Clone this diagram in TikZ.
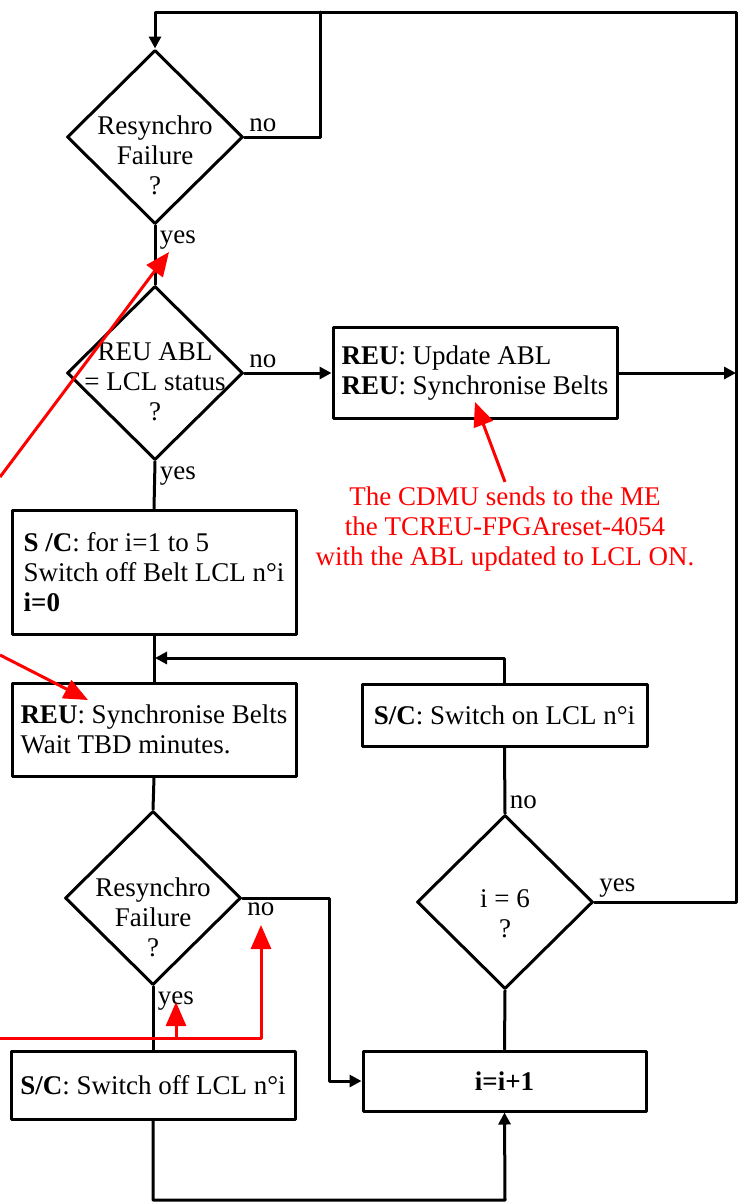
\documentclass[tikz,border=0pt]{standalone}
\usepackage{fontspec}
\setmainfont{Liberation Serif}
\usetikzlibrary{shapes.geometric,arrows.meta}
\begin{document}
\begin{tikzpicture}[x=1pt,y=-1pt,line join=round,line cap=round,>={Triangle[length=12pt,width=12pt]},line width=3pt]
	\tikzset{every node/.style={font=\fontsize{27}{30}\selectfont},
		test/.style={diamond,draw,minimum width=176pt,minimum height=174pt,inner sep=0pt},
		box/.style={rectangle,draw,minimum width=284pt,align=left},
		cbox/.style={rectangle,draw,minimum width=284pt,align=center},
		qtext/.style={align=center,inner sep=0pt},
		note/.style={red,align=center},
		hint/.style={red,line width=3pt,line cap=butt,-{Triangle[length=24pt,width=20pt]}}}
	\useasboundingbox (0,0) rectangle (739,1202);
	% decisions
	\node[test] (d1) at (155,137) {};
	\node[qtext] (q1) at (155,155) {Resynchro\\Failure\\?};
	\node[test] (d2) at (155,373) {};
	\node[qtext] (q2) at (155,382) {REU ABL\\= LCL status\\?};
	\node[test] (d3) at (153,898) {};
	\node[qtext] (q3) at (153,917) {Resynchro\\Failure\\?};
	\node[test] (d4) at (505,902) {};
	\node[qtext] (q4) at (505,914) {i = 6\\?};
	% actions
	\node[box,minimum height=91pt] (b1) at (475,373) {\textbf{REU}: Update ABL\\\textbf{REU}: Synchronise Belts};
	\node[box,minimum height=124pt] (b2) at (154,572) {\textbf{S /C}: for i=1 to 5\\Switch off Belt LCL n°i\\\textbf{i=0}};
	\node[box,minimum height=93pt] (b3) at (154,729.5) {\textbf{REU}: Synchronise Belts\\Wait TBD minutes.};
	\node[cbox,minimum width=285pt,minimum height=62pt] (b4) at (504.5,715) {\textbf{S/C}: Switch on LCL n°i};
	\node[cbox,minimum height=68pt] (b5) at (153,1085) {\textbf{S/C}: Switch off LCL n°i};
	\node[cbox,minimum width=283pt,minimum height=60pt] (b6) at (504.5,1081) {\textbf{i=i+1}};
	% corners of the connectors
	\coordinate (tr) at (736,12);
	\coordinate (tm) at (320,12);
	\coordinate (jn) at (155,658);
	\coordinate (c3) at (329,1081);
	\coordinate (cb) at (505,1200);
	% connectors
	\draw (d1.east) node[above right] (no1) {no} -| (tm);
	\draw (d1.south) node[below right] (yes1) {yes} -- (d2.north);
	\draw[->] (d2.east) node[above right] (no2) {no} -- (b1.west);
	\draw[->] (b1.east) -- (b1.east -| tr);
	\draw (d2.south) node[below right] (yes2) {yes} -- (b2.north);
	\draw (b2.south) -- (b3.north);
	\draw[->] (b4.north) |- (jn);
	\draw (b3.south) -- (d3.north);
	\draw[->] (d3.east) node[below right] (no3) {no} -| (c3) -- (b6.west);
	\draw (d3.south) node[below right] (yes3) {yes} -- (b5.north);
	\draw[->] (b5.south) |- (cb) -- (b6.south);
	\draw (b6.north) -- (d4.south);
	\draw (d4.north) node[above right] (no4) {no} -- (b4.south);
	\draw[->] (d4.east) node[above right] (yes4) {yes} -| (tr) -| (d1.north);
	% red remarks
	\node[note] (cdmu) at (505,529) {The CDMU sends to the ME\\the TCREU-FPGAreset-4054\\with the ABL updated to LCL ON.};
	\coordinate (hA) at (475,402);
	\coordinate (lB) at (0,477);
	\coordinate (hB) at (169,252);
	\coordinate (lC) at (0,655);
	\coordinate (hC) at (88,700);
	\coordinate (lD) at (0,1038);
	\coordinate (hD) at (261,925);
	\coordinate (hE) at (176,1002);
	\draw[hint] (cdmu.north) -- (hA);
	\draw[hint] (lB) -- (hB);
	\draw[hint] (lC) -- (hC);
	\draw[hint] (lD) -| (hD);
	\draw[hint] (lD -| hE) -- (hE);
\end{tikzpicture}
\end{document}
